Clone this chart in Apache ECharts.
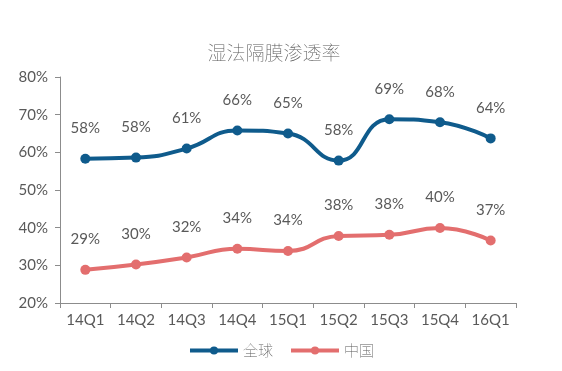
<!DOCTYPE html>
<html>
<head>
<meta charset="utf-8">
<script src="https://cdn.jsdelivr.net/npm/echarts@6/dist/echarts.min.js"></script>
<style>html,body{margin:0;padding:0;background:#fff;}#c{width:562px;height:371px;}</style>
</head>
<body>
<div id="c"></div>
<script>
const categories = ['14Q1','14Q2','14Q3','14Q4','15Q1','15Q2','15Q3','15Q4','16Q1'];
const globalValues = [58.3, 58.6, 61.0, 65.8, 65.0, 57.8, 68.8, 68.0, 63.7];
const chinaValues = [28.8, 30.2, 32.1, 34.4, 33.8, 37.8, 38.1, 39.9, 36.6];
const yTicks = [20, 30, 40, 50, 60, 70, 80];
const globalLabels = ['58%','58%','61%','66%','65%','58%','69%','68%','64%'];
const chinaLabels = ['29%','30%','32%','34%','34%','38%','38%','40%','37%'];

const textColor = '#595959';
const fontFam = 'Lato, "Noto Sans CJK SC", sans-serif';
const chart = echarts.init(document.getElementById('c'), null, {renderer:'canvas'});
chart.setOption({
  animation: false,
  title: {
    text: '湿法隔膜渗透率', left: 269, top: 38, textAlign: 'center',
    textStyle: {fontSize: 19, fontWeight: 'lighter', color: textColor, fontFamily: '"Noto Sans CJK SC", sans-serif'}
  },
  legend: {
    bottom: 8, left: 'center', itemWidth: 48, itemHeight: 10, itemGap: 16,
    lineStyle: {width: 4},
    textStyle: {fontSize: 15, color: textColor, fontWeight: 'lighter', fontFamily: '"Noto Sans CJK SC", sans-serif'},
    data: ['全球', '中国']
  },
  grid: {left: 60, right: 46, top: 77, bottom: 68},
  xAxis: {
    type: 'category', data: categories,
    axisLine: {lineStyle: {color: '#8c8c8c', width: 1}},
    axisTick: {show: true, length: 5, lineStyle: {color: '#8c8c8c'}},
    axisLabel: {color: textColor, fontSize: 15, fontFamily: fontFam, margin: 10}
  },
  yAxis: {
    type: 'value', min: yTicks[0], max: yTicks[yTicks.length-1], interval: 10,
    axisLine: {show: true, lineStyle: {color: '#8c8c8c', width: 1}},
    axisTick: {show: true, length: 5, lineStyle: {color: '#8c8c8c'}},
    splitLine: {show: false},
    axisLabel: {color: textColor, fontSize: 15, fontFamily: fontFam, margin: 12, formatter: v => v + '%'}
  },
  series: [
    {
      name: '全球', type: 'line', smooth: 0.5, data: globalValues,
      symbol: 'circle', symbolSize: 10,
      lineStyle: {color: '#0F5B8C', width: 4},
      itemStyle: {color: '#0F5B8C'},
      label: {show: true, position: 'top', distance: 18, color: textColor, fontSize: 15, fontFamily: fontFam,
        formatter: p => globalLabels[p.dataIndex]}
    },
    {
      name: '中国', type: 'line', smooth: 0.5, data: chinaValues,
      symbol: 'circle', symbolSize: 10,
      lineStyle: {color: '#E36E6E', width: 4},
      itemStyle: {color: '#E36E6E'},
      label: {show: true, position: 'top', distance: 18, color: textColor, fontSize: 15, fontFamily: fontFam,
        formatter: p => chinaLabels[p.dataIndex]}
    }
  ]
});
</script>
</body>
</html>
